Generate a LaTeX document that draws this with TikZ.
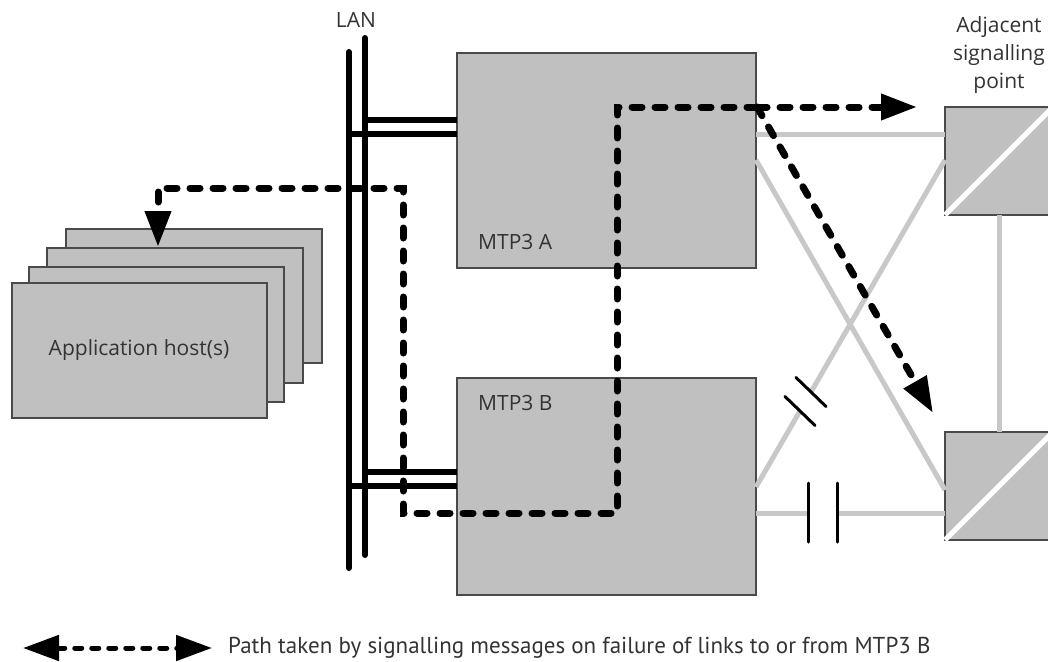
\documentclass[tikz,border=0pt]{standalone}
\usepackage{fontspec}
\setmainfont{PT Sans}
\newfontfamily\lblfont{Open Sans}
\usetikzlibrary{arrows.meta,calc}
\definecolor{boxgray}{HTML}{C0C0C0}
\definecolor{edgegray}{HTML}{4A4A4A}
\definecolor{linkgray}{HTML}{C8C8C8}
\begin{document}
\begin{tikzpicture}[x=1pt,y=-1pt,
  box/.style={draw=edgegray,line width=1.4pt,fill=boxgray,outer sep=0pt,inner sep=0pt,anchor=north west},
  link/.style={draw=linkgray,line width=5pt},
  tick/.style={draw=black,line width=3pt,line cap=round},
  lan/.style={draw=black,line width=6pt,line cap=round},
  lanlink/.style={draw=black,line width=6pt},
  msgpath/.style={draw=black,line width=7pt,line cap=round,dash pattern=on 10pt off 13pt},
  legpath/.style={draw=black,line width=5pt,line cap=round,dash pattern=on 7pt off 10pt},
  tip/.style={-{Triangle[length=36pt,width=25pt]}},
  lbl/.style={font=\lblfont\fontsize{21}{25}\selectfont,text=black!80,inner sep=0pt}
]
\useasboundingbox (0,0) rectangle (1048,661);
\clip (0,0) rectangle (1048,661);

% application hosts (back to front)
\node[box,minimum width=256pt,minimum height=134pt] (h4) at (66,229) {};
\node[box,minimum width=256pt,minimum height=135pt] (h3) at (47,248) {};
\node[box,minimum width=255pt,minimum height=135pt] (h2) at (29,267) {};
\node[box,minimum width=255pt,minimum height=135pt] (h1) at (12,283) {};
\node[lbl] (hostlbl) at (139,350) {Application host(s)};

% MTP3 boxes
\node[box,minimum width=299pt,minimum height=215pt] (A) at (457,53) {};
\node[box,minimum width=299pt,minimum height=217pt] (B) at (457,378) {};
\node[lbl,anchor=west] (Albl) at (478,242) {MTP3 A};
\node[lbl,anchor=west] (Blbl) at (478,403) {MTP3 B};

% adjacent signalling points
\node[box,minimum width=108pt,minimum height=108pt] (P1) at (945,107) {};
\node[box,minimum width=108pt,minimum height=108pt] (P2) at (945,432) {};
\draw[white,line width=5pt] (P1.south west) -- (P1.north east);
\draw[white,line width=5pt] (P2.south west) -- (P2.north east);
\node[lbl,align=center,font=\lblfont\fontsize{21}{28}\selectfont] (adj) at (999,55) {Adjacent\\signalling\\point};

% signalling links
\coordinate (a1) at (756,134); \coordinate (p1a) at (945,134);
\coordinate (a2) at (756,160); \coordinate (p2a) at (945,490);
\coordinate (b1) at (756,487); \coordinate (p1b) at (945,160);
\coordinate (b2) at (756,513); \coordinate (p2b) at (945,513);
\coordinate (g1) at (808,513); \coordinate (g2) at (837,513);
\coordinate (d1) at (800,411); \coordinate (d2) at (811,392);
\coordinate (v1) at (999,215); \coordinate (v2) at (999,432);
\draw[link] (a1) -- (p1a);
\draw[link] (a2) -- (p2a);
\draw[link] (b1) -- (d1);
\draw[link] (d2) -- (p1b);
\draw[link] (b2) -- (g1);
\draw[link] (g2) -- (p2b);
\draw[link] (v1) -- (v2);
\draw[tick] (808,483) -- (808,542);
\draw[tick] (837,483) -- (837,542);
\draw[tick] ($(d1)+(-15,-14.5)$) -- ($(d1)+(15,14.5)$);
\draw[tick] ($(d2)+(-15,-14.5)$) -- ($(d2)+(15,14.5)$);

% LAN
\node[lbl] (lanlbl) at (356,20) {LAN};
\coordinate (l1t) at (349,52); \coordinate (l1b) at (349,568);
\coordinate (l2t) at (365,38); \coordinate (l2b) at (365,555);
\draw[lan] (l1t) -- (l1b);
\draw[lan] (l2t) -- (l2b);
\coordinate (ka1) at (365,120); \coordinate (ka2) at (346,134);
\coordinate (kb1) at (365,472); \coordinate (kb2) at (346,486);
\draw[lanlink] (ka1) -- (A.west |- ka1);
\draw[lanlink] (ka2) -- (A.west |- ka2);
\draw[lanlink] (kb1) -- (B.west |- kb1);
\draw[lanlink] (kb2) -- (B.west |- kb2);

% message path
\coordinate (j) at (757,107);
\coordinate (c1) at (617,107);
\coordinate (c2) at (617,513);
\coordinate (c3) at (403,513);
\coordinate (c4) at (403,188);
\coordinate (c5) at (158,188);
\coordinate (ht) at (158,247);
\coordinate (rt) at (917,107);
\coordinate (dt) at (933,413);
\draw[msgpath,tip] (j) -- (c1) -- (c2) -- (c3) -- (c4) -- (c5) -- (ht);
\draw[msgpath,tip] (j) -- (rt);
\draw[msgpath,tip] (j) -- (dt);

% legend
\coordinate (le1) at (23,648);
\coordinate (le2) at (212,648);
\draw[legpath,{Triangle[length=36pt,width=25pt]}-{Triangle[length=36pt,width=25pt]}] (le1) -- (le2);
\node[anchor=west,inner sep=0pt,text=black!80,font=\fontsize{23}{27}\selectfont] (legtxt) at (228,648) {Path taken by signalling messages on failure of links to or from MTP3 B};
\end{tikzpicture}
\end{document}
